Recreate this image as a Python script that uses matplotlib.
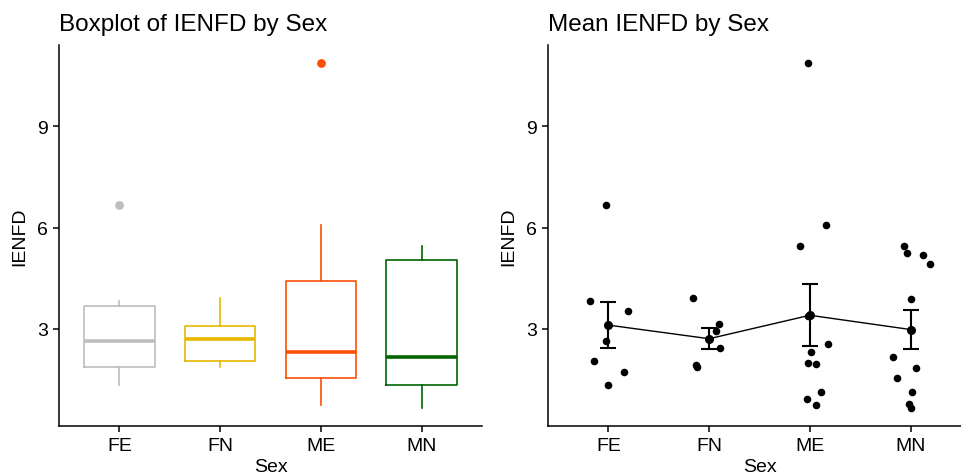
import matplotlib
matplotlib.use("Agg")
import matplotlib.pyplot as plt
import numpy as np

plt.rcParams['font.family'] = ['Liberation Sans', 'DejaVu Sans']

groups = ["FE", "FN", "ME", "MN"]
colors = ["#BEBEBE", "#E7B800", "#FC4E07", "#006400"]

# IENFD measurements per group
fe_vals = [6.67, 3.83, 3.54, 2.64, 2.06, 1.72, 1.34]
fn_vals = [3.91, 3.15, 2.94, 2.45, 1.93, 1.89]
me_vals = [10.88, 6.07, 5.46, 3.39, 2.56, 2.33, 2.00, 1.96, 1.13, 0.93, 0.75]
mn_vals = [5.45, 5.25, 5.19, 4.91, 3.88, 2.17, 1.86, 1.54, 1.13, 0.78, 0.66]

# horizontal jitter offsets of the points in the mean plot
fe_jit = [-0.02, -0.18, 0.19, -0.02, -0.14, 0.15, 0.00]
fn_jit = [-0.16, 0.10, 0.07, 0.11, -0.13, -0.12]
me_jit = [-0.02, 0.16, -0.10, -0.02, 0.18, 0.01, -0.02, 0.06, 0.11, -0.03, 0.06]
mn_jit = [-0.07, -0.04, 0.12, 0.19, 0.00, -0.17, 0.05, -0.13, 0.01, -0.02, 0.00]

data = [fe_vals, fn_vals, me_vals, mn_vals]
jits = [fe_jit, fn_jit, me_jit, mn_jit]
yticks = [3, 6, 9]

W, H = 961, 477
fig = plt.figure(figsize=(W / 100, H / 100), dpi=100)

ax_h = (427 - 46) / H
ax_b = 1 - 427 / H
ax1 = fig.add_axes([59 / W, ax_b, 423 / W, ax_h])
ax2 = fig.add_axes([548 / W, ax_b, 423 / W, ax_h])

pos = np.arange(1, 5)

# Boxplot panel
for i, (vals, c) in enumerate(zip(data, colors)):
    ax1.boxplot([vals], positions=[pos[i]], widths=0.7, whis=1.5,
                patch_artist=False,
                boxprops=dict(color=c, linewidth=1.2),
                whiskerprops=dict(color=c, linewidth=1.2),
                capprops=dict(linewidth=0),
                medianprops=dict(color=c, linewidth=2.6),
                flierprops=dict(marker='o', markerfacecolor=c, markeredgecolor=c,
                                markersize=5.3))

# Mean +/- SE panel with jittered raw points
means = [np.mean(v) for v in data]
ses = [np.std(v, ddof=1) / np.sqrt(len(v)) for v in data]
for i, (vals, jit) in enumerate(zip(data, jits)):
    ax2.scatter(pos[i] + np.array(jit), vals, s=30, color='black', zorder=3,
                linewidths=0)
ax2.plot(pos, means, color='black', linewidth=1.0, zorder=2)
ax2.errorbar(pos, means, yerr=ses, fmt='o', color='black', markersize=5.5,
             elinewidth=1.5, capsize=5.5, capthick=1.5, zorder=4)

for ax in (ax1, ax2):
    ax.set_xlim(0.4, 4.6)
    ax.set_ylim(0.13, 11.4)
    ax.set_xticks(pos)
    ax.set_xticklabels(groups)
    ax.set_yticks(yticks)
    ax.set_yticklabels([str(t) for t in yticks])
    for s in ('top', 'right'):
        ax.spines[s].set_visible(False)
    for s in ('left', 'bottom'):
        ax.spines[s].set_linewidth(1.1)
        ax.spines[s].set_color('black')
    ax.tick_params(axis='both', length=4, width=1.1, color='black',
                   labelsize=14, labelcolor='black', pad=4)
    ax.set_xlabel("Sex", fontsize=14, labelpad=3)
    ax.set_ylabel("IENFD", fontsize=14, labelpad=6)

fig.text(59 / W, 1 - 30.7 / H, "Boxplot of IENFD by Sex", fontsize=17.5,
         va='baseline', ha='left')
fig.text(548 / W, 1 - 30.7 / H, "Mean IENFD by Sex", fontsize=17.5,
         va='baseline', ha='left')

fig.savefig("out.png", dpi=100)
